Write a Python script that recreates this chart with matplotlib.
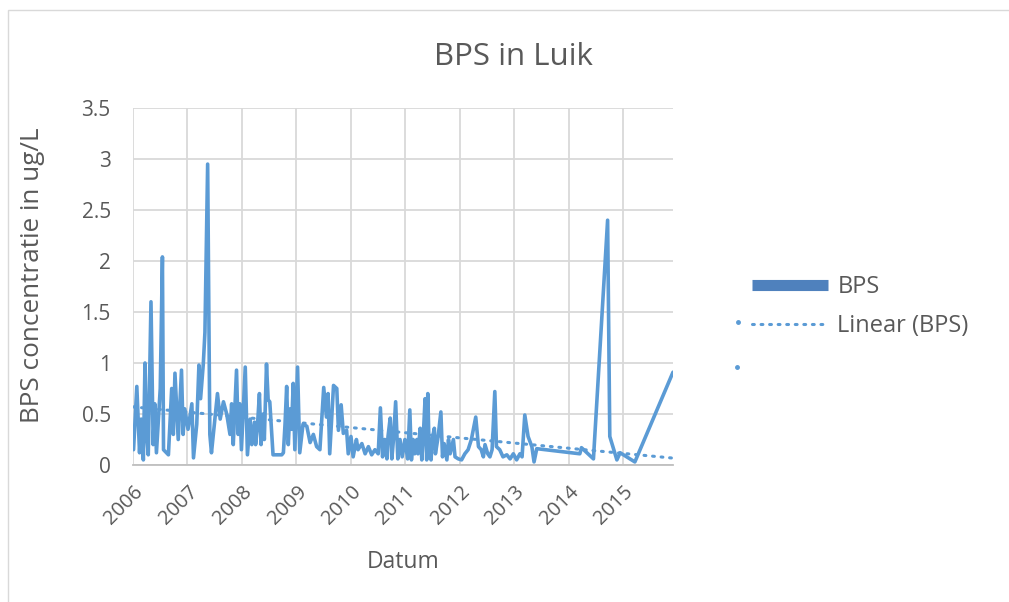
import numpy as np
import matplotlib
matplotlib.use("Agg")
import matplotlib.pyplot as plt
from matplotlib.lines import Line2D
from matplotlib.patches import Rectangle

# ---- data (decimal year, BPS concentration in ug/L) ----
years = [
    2006.01, 2006.07, 2006.12, 2006.15, 2006.19, 2006.22, 2006.25, 2006.28, 2006.33, 2006.37,
    2006.40, 2006.43, 2006.50, 2006.54, 2006.56, 2006.65, 2006.71, 2006.74, 2006.77, 2006.83,
    2006.89, 2006.92, 2006.95, 2007.01, 2007.08, 2007.11, 2007.17, 2007.21, 2007.24, 2007.29,
    2007.32, 2007.37, 2007.41, 2007.44, 2007.55, 2007.60, 2007.66, 2007.72, 2007.78, 2007.81,
    2007.84, 2007.90, 2007.93, 2007.96, 2007.99, 2008.06, 2008.10, 2008.15, 2008.18, 2008.23,
    2008.25, 2008.28, 2008.32, 2008.35, 2008.39, 2008.41, 2008.45, 2008.48, 2008.51, 2008.57,
    2008.73, 2008.76, 2008.79, 2008.82, 2008.85, 2008.88, 2008.91, 2008.94, 2008.97, 2009.02,
    2009.06, 2009.12, 2009.19, 2009.25, 2009.31, 2009.37, 2009.43, 2009.50, 2009.55, 2009.58,
    2009.61, 2009.68, 2009.74, 2009.77, 2009.82, 2009.86, 2009.92, 2009.95, 2010.00, 2010.04,
    2010.10, 2010.13, 2010.20, 2010.26, 2010.32, 2010.38, 2010.44, 2010.50, 2010.54, 2010.58,
    2010.62, 2010.66, 2010.68, 2010.72, 2010.75, 2010.78, 2010.82, 2010.86, 2010.90, 2010.94,
    2010.99, 2011.04, 2011.08, 2011.11, 2011.14, 2011.17, 2011.21, 2011.23, 2011.27, 2011.30,
    2011.33, 2011.36, 2011.39, 2011.41, 2011.43, 2011.47, 2011.49, 2011.53, 2011.55, 2011.60,
    2011.65, 2011.68, 2011.71, 2011.76, 2011.79, 2011.82, 2011.88, 2011.91, 2011.97, 2012.03,
    2012.09, 2012.15, 2012.21, 2012.29, 2012.34, 2012.39, 2012.43, 2012.46, 2012.51, 2012.55,
    2012.59, 2012.64, 2012.67, 2012.73, 2012.79, 2012.86, 2012.92, 2012.98, 2013.04, 2013.10,
    2013.14, 2013.19, 2013.25, 2013.32, 2013.36, 2013.41, 2014.20, 2014.23, 2014.35, 2014.45,
    2014.71, 2014.75, 2014.88, 2014.94, 2015.21, 2015.91,
]
bps = [
    0.15, 0.77, 0.12, 0.45, 0.05, 1.00, 0.30, 0.10, 1.60, 0.20,
    0.60, 0.12, 0.75, 2.04, 0.15, 0.10, 0.75, 0.30, 0.90, 0.25,
    0.93, 0.30, 0.55, 0.35, 0.60, 0.07, 0.40, 0.98, 0.65, 0.99,
    1.30, 2.95, 0.30, 0.12, 0.70, 0.45, 0.62, 0.50, 0.30, 0.60,
    0.20, 0.93, 0.30, 0.60, 0.15, 0.96, 0.10, 0.45, 0.20, 0.42,
    0.20, 0.35, 0.70, 0.20, 0.50, 0.25, 0.99, 0.64, 0.62, 0.10,
    0.10, 0.12, 0.40, 0.77, 0.20, 0.55, 0.35, 0.80, 0.15, 0.96,
    0.12, 0.40, 0.38, 0.22, 0.30, 0.18, 0.15, 0.76, 0.47, 0.70,
    0.11, 0.78, 0.75, 0.34, 0.59, 0.31, 0.34, 0.11, 0.28, 0.08,
    0.25, 0.15, 0.21, 0.11, 0.18, 0.10, 0.15, 0.11, 0.56, 0.08,
    0.25, 0.06, 0.28, 0.46, 0.06, 0.25, 0.62, 0.06, 0.25, 0.08,
    0.25, 0.06, 0.54, 0.05, 0.25, 0.11, 0.25, 0.11, 0.36, 0.05,
    0.31, 0.65, 0.05, 0.70, 0.25, 0.05, 0.25, 0.36, 0.11, 0.28,
    0.52, 0.08, 0.21, 0.05, 0.25, 0.11, 0.25, 0.08, 0.06, 0.05,
    0.11, 0.15, 0.25, 0.47, 0.18, 0.15, 0.08, 0.20, 0.11, 0.08,
    0.15, 0.72, 0.18, 0.15, 0.08, 0.10, 0.06, 0.11, 0.05, 0.11,
    0.08, 0.49, 0.28, 0.18, 0.03, 0.16, 0.11, 0.17, 0.11, 0.06,
    2.40, 0.28, 0.05, 0.12, 0.03, 0.91,
]
year_ticks = [2006, 2007, 2008, 2009, 2010, 2011, 2012, 2013, 2014, 2015]
y_ticks = [0, 0.5, 1, 1.5, 2, 2.5, 3, 3.5]
y_tick_labels = ["0", "0.5", "1", "1.5", "2", "2.5", "3", "3.5"]

# ---- style ----
plt.rcParams['font.family'] = ['Open Sans', 'DejaVu Sans']
TXT = '#595959'
BLUE = '#5b9bd5'
GRID = '#d9d9d9'
DOTS = (0, (0.6, 2.2))

W, H = 1009, 602
fig = plt.figure(figsize=(W / 100, H / 100), dpi=100)
fig.patch.set_facecolor('white')

# chart border
fig.add_artist(Rectangle((8 / W, -0.1), 1.2, 1 - 10 / H + 0.1, transform=fig.transFigure,
                         fill=False, edgecolor=GRID, linewidth=1.0))

L, R, T, B = 133, 673, 108, 465
ax = fig.add_axes([L / W, 1 - B / H, (R - L) / W, (B - T) / H])

x = np.array(years)
y = np.array(bps)
ax.plot(x, y, color=BLUE, linewidth=2.6, solid_joinstyle='round', solid_capstyle='round',
        zorder=3)

# linear trendline (least squares over the series)
coef = np.polyfit(x, y, 1)
xt = np.array([year_ticks[0], x.max()])
ax.plot(xt, np.polyval(coef, xt), color=BLUE, linewidth=2.2, linestyle=DOTS,
        dash_capstyle='round', zorder=2)

ax.set_xlim(year_ticks[0], x.max())
ax.set_ylim(y_ticks[0], y_ticks[-1])
ax.set_xticks(year_ticks)
ax.set_xticklabels([str(v) for v in year_ticks], rotation=45, ha='right',
                   rotation_mode='anchor', color=TXT, fontsize=14.5)
ax.set_yticks(y_ticks)
ax.set_yticklabels(y_tick_labels, color=TXT, fontsize=15)
ax.tick_params(axis='both', length=0)
ax.tick_params(axis='x', pad=12)
ax.tick_params(axis='y', pad=16)
ax.grid(True, color=GRID, linewidth=1.3)
ax.set_axisbelow(True)
for s in ['top', 'right', 'left']:
    ax.spines[s].set_visible(False)
ax.spines['bottom'].set_color('#bfbfbf')
ax.spines['bottom'].set_linewidth(1.3)

ax.set_xlabel('Datum', color=TXT, fontsize=16.5)
ax.xaxis.set_label_coords(0.5, -(562 - B) / (B - T))
ax.xaxis.label.set_va('center')
ax.set_ylabel('BPS concentratie in ug/L', color=TXT, fontsize=18.8)
ax.yaxis.set_label_coords(-(L - 33) / (R - L), (B - 275) / (B - T))
ax.yaxis.label.set_va('center')
fig.text(513 / W, 1 - 57 / H, 'BPS in Luik', ha='center', va='center', color=TXT,
         fontsize=22.5)

# legend
handles = [
    Line2D([], [], color='#4f81bd', linewidth=8, solid_capstyle='butt'),
    Line2D([], [], color=BLUE, linewidth=2.2, linestyle=DOTS, dash_capstyle='round'),
]
leg = fig.legend(handles, ['BPS', 'Linear (BPS)'], loc='upper left',
                 bbox_to_anchor=(731 / W, 1 - 254 / H), frameon=False,
                 fontsize=17, labelcolor=TXT, handlelength=3.2, handletextpad=0.4,
                 labelspacing=0.62)
# stray legend dots seen in the reference
for px, py in [(738, 322), (737, 367)]:
    fig.add_artist(Line2D([px / W], [1 - py / H], transform=fig.transFigure, marker='o',
                          markersize=2.5, color=BLUE, linestyle='none'))

fig.savefig('out.png', dpi=100, facecolor='white')
